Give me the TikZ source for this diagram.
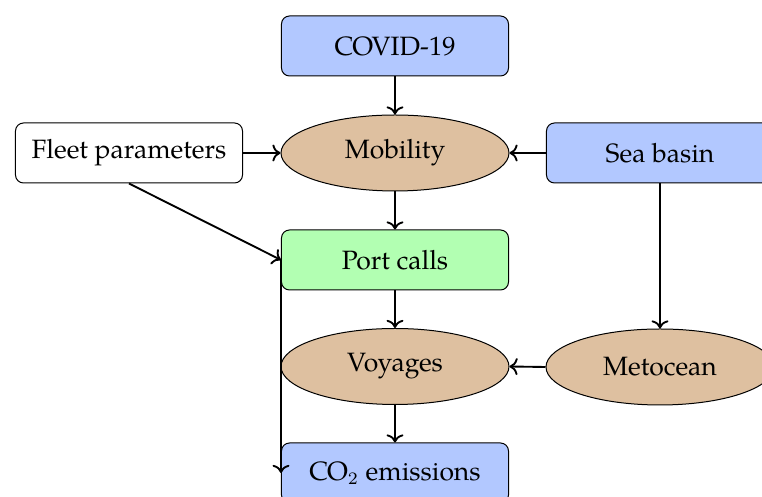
\documentclass[tikz,border=0pt]{standalone}
\usepackage{fontspec}
\setmainfont{TeX Gyre Pagella}
\usetikzlibrary{shapes.geometric,arrows.meta}
\definecolor{boxblue}{RGB}{178,200,255}
\definecolor{boxgreen}{RGB}{178,255,178}
\definecolor{elltan}{RGB}{222,192,160}
\tikzset{
  px/.style={x=0.4pt,y=-0.4pt},
  rbox/.style={draw, line width=0.4pt, rounded corners=3.2pt, minimum width=90.8pt, minimum height=24pt, inner sep=0pt, font=\fontsize{10.6}{12}\selectfont},
  ell/.style={draw, line width=0.4pt, ellipse, fill=elltan, minimum width=91.2pt, minimum height=30.4pt, inner sep=0pt, font=\fontsize{10.6}{12}\selectfont},
  conn/.style={->, line width=0.75pt}
}
\begin{document}
\begin{tikzpicture}[px]
\useasboundingbox (0,0) rectangle (762,497);
\clip (0,0) rectangle (762,497);
\node[rbox, fill=boxblue] (covid) at (395,46) {COVID-19};
\node[ell] (mob) at (395,153) {Mobility};
\node[rbox, fill=white] (fleet) at (129,153) {Fleet parameters};
\node[rbox, fill=boxblue] (sea) at (660,153) {Sea basin};
\node[rbox, fill=boxgreen] (port) at (395,260) {Port calls};
\node[ell] (voy) at (395,366.5) {Voyages};
\node[ell] (met) at (660,367) {Metocean};
\node[rbox, fill=boxblue] (co2) at (395,473) {CO$_2$ emissions};
\draw[conn] (covid.south) -- (mob.north);
\draw[conn] (fleet.east) -- (mob.west);
\draw[conn] (sea.west) -- (mob.east);
\draw[conn] (mob.south) -- (port.north);
\draw[conn] (fleet.south) -- (port.west);
\draw[conn] (port.south) -- (voy.north);
\draw[conn] (sea.south) -- (met.north);
\draw[conn] (met.west) -- (voy.east);
\draw[conn] (voy.south) -- (co2.north);
\draw[conn] (port.west) -- (co2.west);
\end{tikzpicture}
\end{document}
